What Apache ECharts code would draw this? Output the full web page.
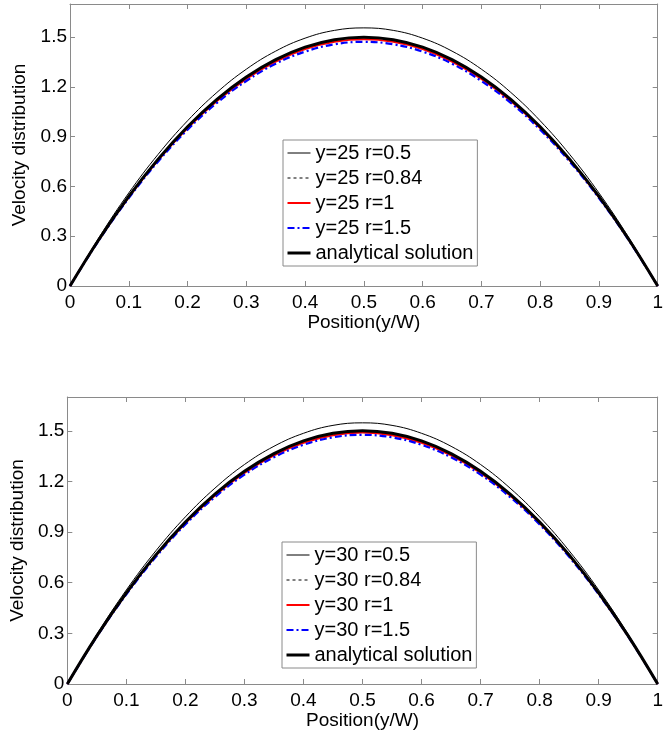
<!DOCTYPE html>
<html>
<head>
<meta charset="utf-8">
<script src="https://cdn.jsdelivr.net/npm/echarts@6/dist/echarts.min.js"></script>
<style>
html,body{margin:0;padding:0;background:#fff;}
#chart{width:666px;height:733px;}
</style>
</head>
<body>
<div id="chart"></div>
<script>
// ---- data ----
var positions = [0,0.05,0.1,0.15,0.2,0.25,0.3,0.35,0.4,0.45,0.5,0.55,0.6,0.65,0.7,0.75,0.8,0.85,0.9,0.95,1];
var yTicks = [0,0.3,0.6,0.9,1.2,1.5];

var namesTop = ['y=25 r=0.5','y=25 r=0.84','y=25 r=1','y=25 r=1.5','analytical solution'];
var namesBottom = ['y=30 r=0.5','y=30 r=0.84','y=30 r=1','y=30 r=1.5','analytical solution'];

var analytical = [0,0.285,0.54,0.765,0.96,1.125,1.26,1.365,1.44,1.485,1.5,1.485,1.44,1.365,1.26,1.125,0.96,0.765,0.54,0.285,0];

var y25_r05  = [0,0.296,0.561,0.794,0.996,1.167,1.307,1.416,1.494,1.541,1.556,1.541,1.494,1.416,1.307,1.167,0.996,0.794,0.561,0.296,0];
var y25_r084 = [0,0.284,0.539,0.764,0.958,1.123,1.258,1.362,1.437,1.482,1.497,1.482,1.437,1.362,1.258,1.123,0.958,0.764,0.539,0.284,0];
var y25_r1   = [0,0.283,0.535,0.759,0.952,1.115,1.249,1.353,1.428,1.472,1.487,1.472,1.428,1.353,1.249,1.115,0.952,0.759,0.535,0.283,0];
var y25_r15  = [0,0.280,0.530,0.751,0.942,1.104,1.236,1.340,1.413,1.457,1.472,1.457,1.413,1.340,1.236,1.104,0.942,0.751,0.530,0.280,0];

var y30_r05  = [0,0.294,0.557,0.789,0.990,1.160,1.300,1.408,1.485,1.532,1.547,1.532,1.485,1.408,1.300,1.160,0.990,0.789,0.557,0.294,0];
var y30_r084 = [0,0.284,0.539,0.763,0.957,1.122,1.257,1.361,1.436,1.481,1.496,1.481,1.436,1.361,1.257,1.122,0.957,0.763,0.539,0.284,0];
var y30_r1   = [0,0.283,0.536,0.760,0.953,1.117,1.251,1.355,1.429,1.474,1.489,1.474,1.429,1.355,1.251,1.117,0.953,0.760,0.536,0.283,0];
var y30_r15  = [0,0.281,0.531,0.753,0.945,1.107,1.240,1.343,1.417,1.461,1.476,1.461,1.417,1.343,1.240,1.107,0.945,0.753,0.531,0.281,0];

// ---- build ----
var FONT = '"Liberation Sans", Arial, sans-serif';
var AX = '#8a8a8a';
var styles = [
  {color:'#000', width:1, type:'solid'},
  {color:'#000', width:1, type:[3,3]},
  {color:'#ff0000', width:2, type:'solid'},
  {color:'#0000ff', width:2.2, type:[7,3,2,3]},
  {color:'#000', width:3, type:'solid'}
];
function pairs(v){ return positions.map(function(x,i){ return [x, v[i]]; }); }

function mainX(gi, nameGap){
  return {gridIndex:gi, type:'value', min:0, max:1, interval:0.1,
    name:'Position(y/W)', nameLocation:'middle', nameGap:nameGap,
    nameTextStyle:{fontFamily:FONT, fontSize:19, color:'#000'},
    axisLine:{show:true, onZero:false, lineStyle:{color:AX, width:1}},
    axisTick:{show:true, inside:true, length:5, lineStyle:{color:AX}},
    axisLabel:{fontFamily:FONT, fontSize:19, color:'#000', margin:7},
    splitLine:{show:false}};
}
function topX(gi){
  return {gridIndex:gi, type:'value', position:'top', min:0, max:1, interval:0.1,
    axisLine:{show:true, onZero:false, lineStyle:{color:AX, width:1}},
    axisTick:{show:true, inside:true, length:5, lineStyle:{color:AX}},
    axisLabel:{show:false}, splitLine:{show:false}};
}
function mainY(gi){
  return {gridIndex:gi, type:'value', min:0, max:1.7, interval:0.3,
    name:'Velocity distribution', nameLocation:'middle', nameGap:37,
    nameTextStyle:{fontFamily:FONT, fontSize:19, color:'#000'},
    axisLine:{show:true, onZero:false, lineStyle:{color:AX, width:1}},
    axisTick:{show:true, inside:true, length:5, lineStyle:{color:AX}},
    axisLabel:{fontFamily:FONT, fontSize:19, color:'#000', margin:3, showMaxLabel:false,
      formatter:function(v){ return yTicks.indexOf(Math.round(v*10)/10) >= 0 ? String(Math.round(v*10)/10) : ''; }},
    splitLine:{show:false}};
}
function rightY(gi){
  return {gridIndex:gi, type:'value', position:'right', min:0, max:1.7, interval:0.3,
    axisLine:{show:true, onZero:false, lineStyle:{color:AX, width:1}},
    axisTick:{show:true, inside:true, length:5, lineStyle:{color:AX}},
    axisLabel:{show:false}, splitLine:{show:false}};
}
function mkSeries(names, arrays, xi, yi){
  return names.map(function(n,i){
    var s = styles[i];
    return {name:n, type:'line', xAxisIndex:xi, yAxisIndex:yi, data:pairs(arrays[i]),
      smooth:0.4, symbol:'none', showSymbol:false, silent:true, animation:false,
      lineStyle:{color:s.color, width:s.width, type:s.type}, itemStyle:{color:s.color}, z:2+i};
  });
}
function mkLegend(names, left, top){
  return {orient:'vertical', left:left, top:top,
    data:names,
    itemStyle:{opacity:0},
    lineStyle:{width:'inherit', type:'inherit', color:'inherit'},
    itemWidth:23, itemHeight:14, itemGap:5, padding:[3,4,3,3],
    borderColor:AX, borderWidth:1, backgroundColor:'#fff', selectedMode:false,
    textStyle:{fontFamily:FONT, fontSize:20, color:'#000', lineHeight:20}};
}

var option = {
  backgroundColor:'#fff',
  animation:false,
  grid:[
    {left:70, top:4, width:593, height:282},
    {left:66, top:397, width:600, height:287}
  ],
  xAxis:[mainX(0,23), mainX(1,23), topX(0), topX(1)],
  yAxis:[mainY(0), mainY(1), rightY(0), rightY(1)],
  legend:[mkLegend(namesTop, 283, 140), mkLegend(namesBottom, 282, 542)],
  series: mkSeries(namesTop, [y25_r05,y25_r084,y25_r1,y25_r15,analytical], 0, 0)
    .concat(mkSeries(namesBottom, [y30_r05,y30_r084,y30_r1,y30_r15,analytical], 1, 1))
};
var chart = echarts.init(document.getElementById('chart'), null, {renderer:'canvas'});
chart.setOption(option);
</script>
</body>
</html>
